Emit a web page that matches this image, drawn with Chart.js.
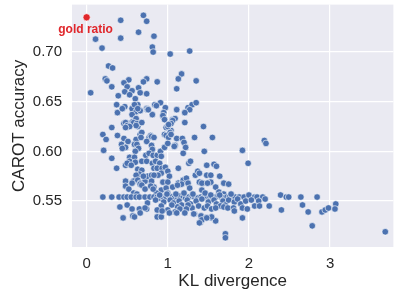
<!DOCTYPE html>
<html>
<head>
<meta charset="utf-8">
<script src="https://cdn.jsdelivr.net/npm/chart.js@4/dist/chart.umd.min.js"></script>
<style>
html,body{margin:0;padding:0;background:#fff;}
canvas{display:block;}
</style>
</head>
<body>
<canvas id="c" width="398" height="294"></canvas>
<script>
// ---- data (KL divergence, CAROT accuracy) ----
const xTicks = [0, 1, 2, 3];
const yTicks = [0.55, 0.60, 0.65, 0.70];
const goldRatio = [0.0, 0.735];
const goldLabel = 'gold ratio';

const upperPoints = [
[0.42,0.732],[0.70,0.737],[0.74,0.731],[0.64,0.720],[0.42,0.714],[0.83,0.716],[0.11,0.713],[0.19,0.704],[0.81,0.705],[0.82,0.700],
[1.03,0.698],[1.27,0.701],[0.27,0.686],[0.32,0.684],[1.17,0.678],[0.23,0.673],[0.25,0.671],[0.52,0.672],[0.74,0.673],[0.70,0.670],
[0.46,0.669],[1.13,0.673],[0.87,0.670],[1.35,0.671],[0.50,0.665],[0.64,0.664],[0.31,0.665],[1.11,0.663],[0.05,0.659],[0.47,0.660],
[0.56,0.661],[0.66,0.659],[0.74,0.658],[0.39,0.656],[0.53,0.657],[0.60,0.653],[0.37,0.647],[0.47,0.645],[0.56,0.643],[0.63,0.647],
[0.74,0.643],[0.84,0.647],[0.91,0.649],[0.97,0.644],[0.38,0.639],[0.44,0.643],[0.61,0.640],[0.66,0.641],[0.81,0.637],[0.95,0.639],
[0.94,0.635],[1.11,0.642],[1.25,0.644],[1.30,0.647],[1.35,0.649],[1.27,0.642],[1.21,0.639],[1.06,0.632],[1.09,0.633],[0.46,0.628],
[0.53,0.628],[0.57,0.630],[0.61,0.632],[0.31,0.624],[0.49,0.624],[0.63,0.625],[0.98,0.624],[1.04,0.621],[1.21,0.629],[1.44,0.625],
[0.59,0.647],[0.63,0.643],[0.75,0.642],[0.56,0.637],[0.61,0.633],[0.48,0.629],[0.58,0.629],[0.62,0.628],[0.68,0.629],[0.50,0.626],
[0.61,0.626],[0.86,0.646],[0.76,0.642],[0.94,0.636],[0.96,0.632],[1.06,0.631],[1.04,0.628],[1.00,0.625],[1.01,0.627],[0.53,0.625],
[0.48,0.624]
];

const middlePoints = [
[0.20,0.617],[0.24,0.612],[0.38,0.616],[0.21,0.601],[0.46,0.613],[0.51,0.610],[0.43,0.607],[0.48,0.604],[0.44,0.603],[0.61,0.612],
[0.59,0.607],[0.62,0.607],[0.64,0.603],[0.60,0.600],[0.66,0.617],[0.68,0.619],[0.67,0.614],[0.77,0.614],[0.79,0.616],[0.74,0.610],
[0.31,0.593],[0.37,0.583],[0.53,0.594],[0.59,0.594],[0.53,0.590],[0.60,0.589],[0.48,0.586],[0.50,0.588],[0.55,0.586],[0.73,0.596],
[0.68,0.590],[0.74,0.590],[0.81,0.588],[0.63,0.582],[0.68,0.581],[0.65,0.577],[0.61,0.576],[0.48,0.570],[0.48,0.565],[0.58,0.570],
[0.63,0.571],[0.66,0.568],[0.72,0.570],[0.75,0.575],[0.80,0.576],[0.70,0.575],[0.80,0.615],[0.83,0.614],[0.96,0.617],[0.98,0.616],
[1.03,0.619],[1.01,0.614],[1.04,0.617],[1.11,0.613],[1.09,0.606],[1.18,0.613],[1.20,0.609],[1.22,0.604],[1.19,0.598],[1.33,0.614],
[1.55,0.614],[1.45,0.600],[0.80,0.606],[0.81,0.602],[0.77,0.598],[0.82,0.596],[0.87,0.596],[0.91,0.600],[0.92,0.595],[0.96,0.604],
[1.00,0.608],[1.08,0.605],[0.85,0.590],[0.90,0.588],[0.83,0.583],[0.87,0.583],[0.93,0.583],[0.97,0.584],[1.00,0.580],[0.92,0.578],
[0.88,0.576],[0.83,0.576],[1.13,0.583],[1.26,0.588],[1.28,0.590],[1.48,0.586],[1.57,0.587],[1.60,0.585],[1.64,0.575],[1.48,0.576],
[1.53,0.576],[1.34,0.576],[1.37,0.580],[1.39,0.578],[1.13,0.568],[1.19,0.571],[1.23,0.573],[1.17,0.567],[1.25,0.568],[0.94,0.569],
[1.02,0.575],[1.00,0.569],[1.39,0.569],[1.43,0.568],[1.53,0.569],[1.69,0.568],[1.75,0.567],[2.19,0.611],[2.21,0.608],[1.92,0.601],
[1.99,0.588],[1.59,0.564],[1.42,0.561],[1.63,0.559],[1.42,0.568],[1.49,0.568],[0.83,0.564],[0.92,0.561],[0.98,0.563],[1.06,0.564],
[1.12,0.566],[1.27,0.563],[1.69,0.557],[0.86,0.558],[1.00,0.558],[0.52,0.562],[0.56,0.568],[0.58,0.558],[0.62,0.557],[0.66,0.567],
[0.68,0.566],[0.72,0.562],[0.80,0.570],[0.79,0.565],[0.82,0.562]
];

const rowPoints = [
[0.20,0.554],[0.31,0.554],[0.40,0.554],[0.46,0.554],[0.50,0.554],[0.55,0.554],[0.61,0.554],[0.65,0.554],[0.72,0.554],[0.78,0.554],
[0.83,0.554],[0.87,0.554],[0.90,0.553],[0.94,0.554],[0.98,0.554],[1.02,0.555],[1.05,0.554],[1.08,0.553],[1.12,0.554],[1.15,0.555],
[1.19,0.554],[1.22,0.553],[1.26,0.554],[1.30,0.555],[1.33,0.554],[1.37,0.553],[1.41,0.554],[1.45,0.554],[1.48,0.555],[1.52,0.554],
[1.55,0.553],[1.59,0.554],[1.62,0.555],[1.66,0.554],[1.69,0.553],[1.73,0.554],[1.76,0.554],[1.80,0.553],[1.83,0.554],[1.88,0.554],
[1.94,0.554],[2.00,0.556],[2.07,0.554],[2.10,0.554],[2.17,0.554],[2.39,0.556],[2.46,0.554],[2.49,0.554],[2.64,0.554],[2.84,0.554]
];

const bandPoints = [
[0.85,0.551],[0.90,0.556],[0.95,0.549],[0.99,0.557],[1.03,0.551],[1.07,0.548],[1.10,0.557],[1.14,0.550],[1.17,0.546],[1.20,0.558],
[1.24,0.551],[1.28,0.547],[1.31,0.557],[1.35,0.550],[1.38,0.545],[1.42,0.552],[1.46,0.558],[1.50,0.549],[1.53,0.556],[1.57,0.551],
[1.60,0.547],[1.64,0.556],[1.68,0.550],[1.71,0.546],[1.75,0.551],[1.78,0.557],[1.82,0.549],[1.86,0.552],[1.90,0.547],[1.96,0.550],
[2.03,0.551],[2.12,0.550],[2.20,0.552],[0.92,0.545],[1.12,0.544],[1.30,0.543],[1.25,0.546],[1.05,0.546],[1.65,0.545],[1.45,0.543],
[1.49,0.545],[1.54,0.542],[1.59,0.543],[1.69,0.544],[1.74,0.543],[1.81,0.543],[1.82,0.540],[1.92,0.543],[1.98,0.542],[2.07,0.545],
[2.13,0.545],[2.25,0.545]
];

const lowerPoints = [
[0.41,0.544],[0.45,0.533],[0.50,0.546],[0.56,0.542],[0.57,0.535],[0.59,0.534],[0.65,0.542],[0.66,0.538],[0.74,0.542],[0.75,0.548],
[0.87,0.541],[0.87,0.534],[0.92,0.534],[1.00,0.541],[1.09,0.539],[1.15,0.542],[1.23,0.542],[1.33,0.537],[1.41,0.535],[1.47,0.533],
[1.54,0.533],[1.59,0.530],[1.40,0.528],[1.42,0.531],[0.93,0.540],[1.02,0.538],[1.11,0.538],[1.21,0.538],[1.32,0.537],[0.72,0.543],
[1.92,0.533],[1.54,0.534],[1.48,0.533],[1.39,0.528]
];

const outlierPoints = [
[3.07,0.547],[3.06,0.542],[2.66,0.546],[2.40,0.541],[2.73,0.539],[2.90,0.539],[2.94,0.541],[2.98,0.543],[2.78,0.525],[3.68,0.519],
[1.71,0.517],[1.71,0.513]
];

// ---- build chart ----
const toXY = arr => arr.map(p => ({x: p[0], y: p[1]}));
const allPoints = [].concat(upperPoints, middlePoints, rowPoints, bandPoints, lowerPoints, outlierPoints);

const FONT = "'Liberation Sans', Arial, sans-serif";
const TEXT = '#262626';

const bgPlugin = {
  id: 'bg',
  beforeDraw(chart) {
    const a = chart.chartArea, ctx = chart.ctx;
    ctx.save();
    ctx.fillStyle = '#EAEAF2';
    ctx.fillRect(a.left, a.top, a.right - a.left, a.bottom - a.top);
    ctx.restore();
  }
};

const labelPlugin = {
  id: 'goldLabel',
  afterDatasetsDraw(chart) {
    const ctx = chart.ctx;
    const px = chart.scales.x.getPixelForValue(goldRatio[0]);
    const py = chart.scales.y.getPixelForValue(goldRatio[1]);
    ctx.save();
    ctx.font = "bold 12px " + FONT;
    ctx.fillStyle = '#E0262B';
    ctx.textAlign = 'center';
    ctx.textBaseline = 'middle';
    ctx.fillText(goldLabel, px - 1, py + 12);
    ctx.restore();
  }
};

const noPad = s => { s.paddingTop = 0; s.paddingBottom = 0; s.paddingLeft = 0; s.paddingRight = 0; };

new Chart(document.getElementById('c'), {
  type: 'scatter',
  data: {
    datasets: [
      {
        data: toXY(allPoints),
        backgroundColor: '#4C72B0',
        borderColor: '#ffffff',
        borderWidth: 0.6,
        pointRadius: 3.3,
        pointHoverRadius: 3.3
      },
      {
        data: toXY([goldRatio]),
        backgroundColor: '#E0262B',
        borderColor: '#ffffff',
        borderWidth: 0.6,
        pointRadius: 3.6
      }
    ]
  },
  options: {
    responsive: false,
    animation: false,
    devicePixelRatio: 1,
    layout: { padding: 0 },
    plugins: { legend: { display: false }, tooltip: { enabled: false } },
    scales: {
      x: {
        type: 'linear',
        min: -0.18,
        max: 3.78,
        afterBuildTicks: s => { s.ticks = xTicks.map(v => ({ value: v })); },
        afterFit: s => { s.height = 47; noPad(s); },
        border: { display: false },
        grid: { color: '#ffffff', lineWidth: 1.2, drawTicks: false },
        ticks: { font: { family: FONT, size: 15 }, color: TEXT, padding: 8 },
        title: { display: true, text: 'KL divergence', font: { family: FONT, size: 17 }, color: TEXT, padding: { top: 0, bottom: 2 } }
      },
      y: {
        type: 'linear',
        min: 0.5037,
        max: 0.7478,
        afterBuildTicks: s => { s.ticks = yTicks.map(v => ({ value: v })); },
        afterFit: s => { s.width = 72; noPad(s); },
        border: { display: false },
        grid: { color: '#ffffff', lineWidth: 1.2, drawTicks: false },
        ticks: { font: { family: FONT, size: 15 }, color: TEXT, padding: 10, callback: v => v.toFixed(2) },
        title: { display: true, text: 'CAROT accuracy', font: { family: FONT, size: 17 }, color: TEXT, padding: { top: 9, bottom: 0 } }
      }
    }
  },
  plugins: [bgPlugin, labelPlugin]
});
</script>
</body>
</html>
